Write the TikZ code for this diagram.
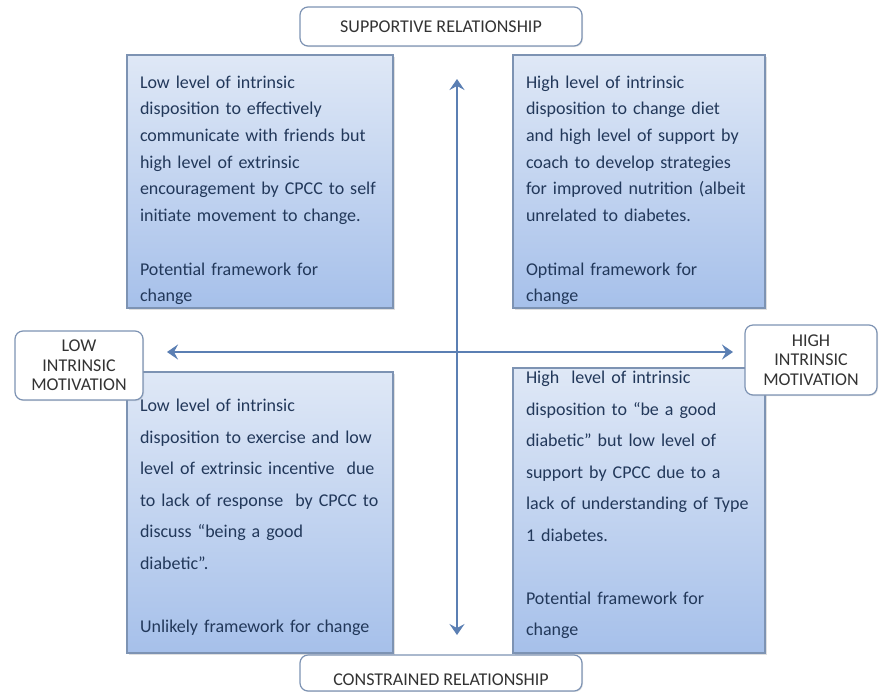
\documentclass[tikz,border=0pt]{standalone}
\usepackage{fontspec}
\setmainfont{Carlito}
\usetikzlibrary{arrows.meta,shadows}

\definecolor{feldoben}{HTML}{DFE8F6}
\definecolor{feldunten}{HTML}{A6C0EA}
\definecolor{feldrand}{HTML}{7D93B3}
\definecolor{feldtext}{HTML}{22385A}
\definecolor{achse}{HTML}{5B7FB3}

% Abstand über der ersten bzw. unter der letzten Zeile
\newcommand{\vorlauf}[1]{\rule{0pt}{#1}}
\newcommand{\nachlauf}[1]{\rule[-#1]{0pt}{0pt}}

\begin{document}
\begin{tikzpicture}[x=1pt, y=-1pt,
        feld/.style={rectangle, draw=feldrand, line width=1.2pt,
            top color=feldoben, bottom color=feldunten,
            drop shadow={opacity=0.25, shadow xshift=1.5pt, shadow yshift=-1.5pt},
            text=feldtext, align=left, inner xsep=13pt, inner ysep=0pt,
            font=\fontsize{18}{26.7}\selectfont},
        feldunten/.style={feld, font=\fontsize{18}{31.5}\selectfont},
        pol/.style={rectangle, rounded corners=8pt, draw=feldrand, line width=1.2pt,
            fill=white, text=black!80, align=center, inner sep=0pt,
            drop shadow={opacity=0.2, shadow xshift=1pt, shadow yshift=-1pt},
            font=\fontsize{18}{19.5}\selectfont},
        >={Stealth[length=11pt, width=15pt, inset=4pt]} % Pfeilspitzen
        ]
    \useasboundingbox (0,0) rectangle (880,691);

    % Felder
    \node (LO) [feld, minimum width=266pt, minimum height=253pt, text width=240pt]
        at (260,181.5) {\vorlauf{30pt}Low level of intrinsic\\ disposition to effectively\\
        communicate with friends but\\ high level of extrinsic\\
        encouragement by CPCC to self\\ initiate movement to change.\\[26.7pt]
        Potential framework for\\ change};
    \node (RO) [feld, minimum width=252pt, minimum height=253pt, text width=226pt]
        at (639,181.5) {\vorlauf{30pt}High level of intrinsic\\ disposition to change diet\\
        and high level of support by\\ coach to develop strategies\\
        for improved nutrition (albeit\\ unrelated to diabetes.\\[26.7pt]
        Optimal framework for\\ change};
    \node (LU) [feldunten, minimum width=266pt, minimum height=281pt, text width=240pt]
        at (260,512.5) {\vorlauf{22pt}Low level of intrinsic\\ disposition to exercise and low\\
        level of extrinsic incentive\ \ due\\ to lack of response\ \ by CPCC to\\
        discuss “being a good\\ diabetic”.\\[31.5pt]
        Unlikely framework for change};
    \node (RU) [feldunten, minimum width=252pt, minimum height=285pt, text width=226pt]
        at (639,510.5) {High\ \ level of intrinsic\\ disposition to “be a good\\
        diabetic” but low level of\\ support by CPCC due to a\\
        lack of understanding of Type\\ 1 diabetes.\\[31.5pt]
        Potential framework for\\ change\nachlauf{14pt}};

    % Achsen
    \coordinate (oben)   at (457,79);
    \coordinate (unten)  at (457,635);
    \coordinate (links)  at (167,352);
    \coordinate (rechts) at (733,352);
    \draw [<->, achse, line width=2.4pt] (oben) -- (unten);
    \draw [<->, achse, line width=2.4pt] (links) -- (rechts);

    % Pole
    \node (SR) [pol, minimum width=282pt, minimum height=39pt] at (441,26.5)
        {SUPPORTIVE RELATIONSHIP};
    \node (CR) [pol, minimum width=282pt, minimum height=36pt] at (441,673)
        {\vorlauf{26pt}CONSTRAINED RELATIONSHIP};
    \node (LM) [pol, minimum width=128pt, minimum height=69pt] at (79,365.5)
        {LOW\\ INTRINSIC\\ MOTIVATION};
    \node (HM) [pol, minimum width=132pt, minimum height=70pt] at (811,360)
        {HIGH\\ INTRINSIC\\ MOTIVATION};
\end{tikzpicture}
\end{document}
